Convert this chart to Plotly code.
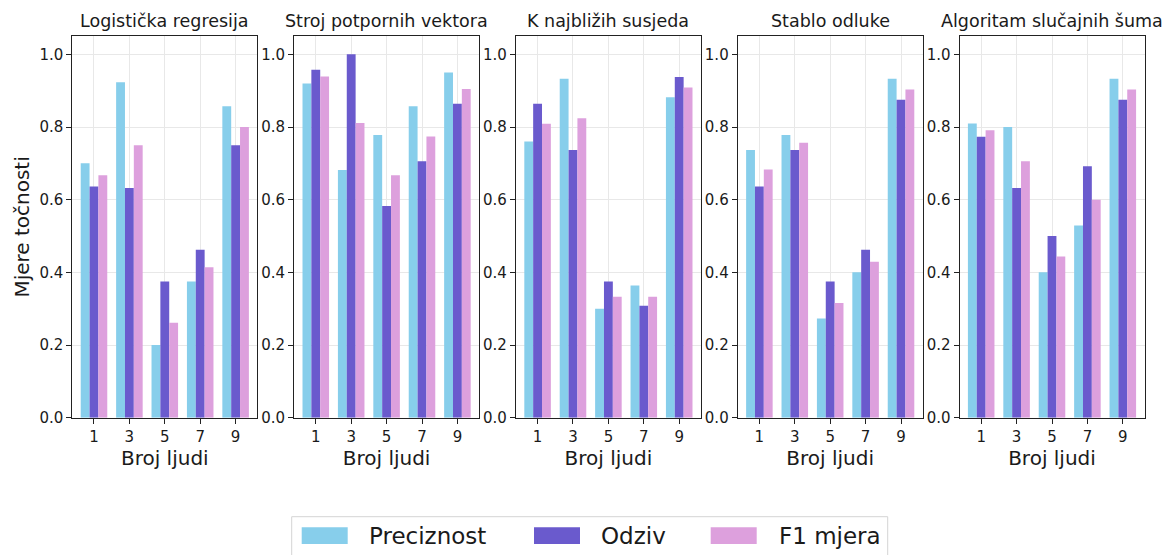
import plotly.graph_objects as go

# ---------------- data ----------------
people = [1, 3, 5, 7, 9]
model_titles = ["Logistička regresija", "Stroj potpornih vektora", "K najbližih susjeda",
                "Stablo odluke", "Algoritam slučajnih šuma"]
metric_names = ["Preciznost", "Odziv", "F1 mjera"]
metric_colors = ["#87CEEB", "#6A5ACD", "#DDA0DD"]

logreg_precision = [0.700, 0.923, 0.200, 0.375, 0.857]
logreg_recall = [0.636, 0.632, 0.375, 0.462, 0.750]
logreg_f1 = [0.667, 0.750, 0.261, 0.414, 0.800]

svm_precision = [0.920, 0.682, 0.778, 0.857, 0.950]
svm_recall = [0.958, 1.000, 0.583, 0.706, 0.864]
svm_f1 = [0.939, 0.811, 0.667, 0.774, 0.905]

knn_precision = [0.760, 0.933, 0.300, 0.364, 0.882]
knn_recall = [0.864, 0.737, 0.375, 0.308, 0.938]
knn_f1 = [0.809, 0.824, 0.333, 0.333, 0.909]

tree_precision = [0.737, 0.778, 0.273, 0.400, 0.933]
tree_recall = [0.636, 0.737, 0.375, 0.462, 0.875]
tree_f1 = [0.683, 0.757, 0.316, 0.429, 0.903]

rf_precision = [0.810, 0.800, 0.400, 0.529, 0.933]
rf_recall = [0.773, 0.632, 0.500, 0.692, 0.875]
rf_f1 = [0.791, 0.706, 0.444, 0.600, 0.903]

y_ticks = [0.0, 0.2, 0.4, 0.6, 0.8, 1.0]
y_ticktext = ["0.0", "0.2", "0.4", "0.6", "0.8", "1.0"]

models = [
    [logreg_precision, logreg_recall, logreg_f1],
    [svm_precision, svm_recall, svm_f1],
    [knn_precision, knn_recall, knn_f1],
    [tree_precision, tree_recall, tree_f1],
    [rf_precision, rf_recall, rf_f1],
]

# ---------------- layout geometry (page pixels; page body has an 8px margin) ----------------
PAGE_W, PAGE_H = 1175, 555
OFF = 8
W, H = PAGE_W - OFF, PAGE_H - OFF


def fx(px):
    return (px - OFF) / W


def fy(py):
    return 1 - (py - OFF) / H


FONT = "DejaVu Sans"
TXT = "#1a1a1a"
panel_w = 185.0
panel_gap = 36.8
left0 = 72.3
plot_top_px, plot_bot_px = 36.2, 417.7
ydom = [fy(plot_bot_px), fy(plot_top_px)]

bar_w = 0.5
offsets = [-0.75, -0.25, 0.25]

fig = go.Figure()
layout = dict(
    width=W, height=H,
    margin=dict(l=0, r=0, t=0, b=0, autoexpand=False),
    paper_bgcolor="white", plot_bgcolor="white",
    barmode="overlay", showlegend=False,
    font=dict(family=FONT, color=TXT, size=15),
)
annotations = []
shapes = []

for i, (title, series) in enumerate(zip(model_titles, models)):
    n = "" if i == 0 else str(i + 1)
    lpx = left0 + i * (panel_w + panel_gap)
    rpx = lpx + panel_w
    for j, vals in enumerate(series):
        fig.add_trace(go.Bar(
            x=people, y=vals, width=bar_w, offset=offsets[j],
            marker=dict(color=metric_colors[j], line=dict(width=0)),
            name=metric_names[j], xaxis="x" + n, yaxis="y" + n,
            hovertemplate=metric_names[j] + ": %{y:.3f}<extra></extra>",
        ))
    layout["xaxis" + n] = dict(
        domain=[fx(lpx), fx(rpx)], anchor="y" + n, automargin=False,
        range=[-0.225, 10.225], tickvals=people, ticktext=[str(p) for p in people],
        ticks="outside", ticklen=5, tickwidth=1, tickcolor="#222",
        showline=True, linecolor="#222", linewidth=1, mirror=True,
        showgrid=True, gridcolor="#e8e8e8", gridwidth=1, zeroline=False,
        tickfont=dict(size=15, color=TXT, family=FONT),
        title=dict(text="Broj ljudi", font=dict(size=20, color=TXT, family=FONT), standoff=2),
    )
    layout["yaxis" + n] = dict(
        domain=ydom, anchor="x" + n, automargin=False,
        range=[0, 1.05], tickvals=y_ticks, ticktext=y_ticktext,
        ticks="outside", ticklen=5, tickwidth=1, tickcolor="#222",
        showline=True, linecolor="#222", linewidth=1, mirror=True,
        showgrid=True, gridcolor="#e8e8e8", gridwidth=1, zeroline=False,
        tickfont=dict(size=15, color=TXT, family=FONT),
    )
    if i == 0:
        layout["yaxis"]["title"] = dict(text="Mjere točnosti",
                                        font=dict(size=20, color=TXT, family=FONT), standoff=4)
    annotations.append(dict(
        text=title, xref="paper", yref="paper",
        x=fx((lpx + rpx) / 2), y=ydom[1], xanchor="center", yanchor="bottom",
        yshift=3, showarrow=False, font=dict(size=17.5, color=TXT, family=FONT),
    ))

# ---------------- legend (drawn at bottom centre) ----------------
leg_box = (291.7, 516.7, 887.7, 562.0)
shapes.append(dict(type="rect", xref="paper", yref="paper",
                   x0=fx(leg_box[0]), x1=fx(leg_box[2]),
                   y0=fy(leg_box[3]), y1=fy(leg_box[1]),
                   line=dict(color="#d4d4d4", width=1), fillcolor="rgba(255,255,255,0.8)",
                   layer="above"))
patch_x = [301.7, 534.0, 710.7]
text_x = [366.7, 599.3, 776.7]
for j in range(3):
    shapes.append(dict(type="rect", xref="paper", yref="paper",
                       x0=fx(patch_x[j]), x1=fx(patch_x[j] + 46),
                       y0=fy(544.0), y1=fy(527.3),
                       line=dict(width=0), fillcolor=metric_colors[j], layer="above"))
    annotations.append(dict(text=metric_names[j], xref="paper", yref="paper",
                            x=fx(text_x[j]), y=fy(536.0), xanchor="left", yanchor="middle",
                            showarrow=False, font=dict(size=23, color=TXT, family=FONT)))

layout["annotations"] = annotations
layout["shapes"] = shapes
fig.update_layout(**layout)
fig.write_html("out.html")
